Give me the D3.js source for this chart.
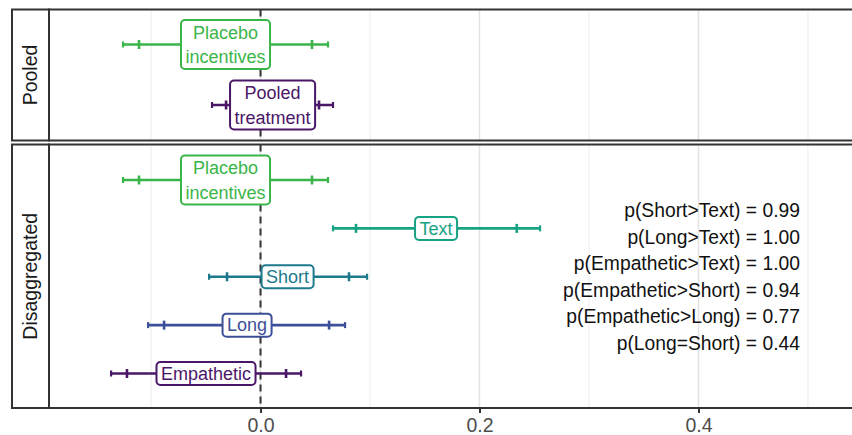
<!DOCTYPE html>
<html lang="en">
<head>
    <meta charset="UTF-8">
    <title>Treatment effects</title>
    <script src="https://cdnjs.cloudflare.com/ajax/libs/d3/7.8.5/d3.min.js"></script>
    <style>
        body { margin: 0; background: #fff; font-family: "Liberation Sans", Arial, sans-serif; }
        .grid-major { stroke: #e3e3e3; stroke-width: 1.5; }
        .grid-minor { stroke: #ececec; stroke-width: 1; }
        .frame { fill: none; stroke: #333; stroke-width: 2; }
        .strip-text { font-size: 19.5px; fill: #1a1a1a; text-anchor: middle; }
        .tick-label { font-size: 19.5px; fill: #4d4d4d; text-anchor: middle; }
        .note { font-size: 19.3px; fill: #111; text-anchor: end; }
        .lbl { font-size: 18px; text-anchor: middle; }
    </style>
</head>
<body>
<div id="chart"></div>
<script>
    // Rows per facet
    const pooledRows = ["Placebo incentives", "Pooled treatment"];
    const disaggRows = ["Placebo incentives", "Text", "Short", "Long", "Empathetic"];

    // Estimates and intervals (outer = wide, inner = narrow)
    const pooledEst   = [-0.032, 0.011];
    const pooledLoOut = [-0.1256, -0.0443];
    const pooledLoIn  = [-0.111, -0.0315];
    const pooledHiIn  = [0.047, 0.0534];
    const pooledHiOut = [0.0616, 0.0662];

    const disaggEst   = [-0.032, 0.1603, 0.0247, -0.0123, -0.0498];
    const disaggLoOut = [-0.1256, 0.0662, -0.047, -0.1027, -0.1365];
    const disaggLoIn  = [-0.111, 0.0872, -0.0306, -0.0881, -0.122];
    const disaggHiIn  = [0.047, 0.234, 0.0808, 0.0626, 0.0233];
    const disaggHiOut = [0.0616, 0.2553, 0.0973, 0.0772, 0.037];

    const rowColors = {
        "Placebo incentives": "#3ab54a",
        "Pooled treatment": "#4a1768",
        "Text": "#17a382",
        "Short": "#1d7a8c",
        "Long": "#3d4f99",
        "Empathetic": "#4a1768"
    };
    const rowLabels = {
        "Placebo incentives": ["Placebo", "incentives"],
        "Pooled treatment": ["Pooled", "treatment"],
        "Text": ["Text"], "Short": ["Short"], "Long": ["Long"], "Empathetic": ["Empathetic"]
    };

    const xTicks = [0, 0.2, 0.4];
    const xMinor = [-0.1, 0.1, 0.3, 0.5];

    const notes = [
        "p(Short>Text) = 0.99",
        "p(Long>Text) = 1.00",
        "p(Empathetic>Text) = 1.00",
        "p(Empathetic>Short) = 0.94",
        "p(Empathetic>Long) = 0.77",
        "p(Long=Short) = 0.44"
    ];
    const noteX = 0.4927;

    const W = 852, H = 435;
    const stripL = 12, panelL = 49;

    const svg = d3.select("#chart").append("svg")
        .attr("width", W).attr("height", H);

    const x = d3.scaleLinear().domain([-0.1932, 0.5402]).range([panelL, W]);

    const panels = [
        { name: "Pooled", top: 9.5, bottom: 140.5, rows: pooledRows, yr: [44.5, 105],
          est: pooledEst, lo: pooledLoOut, loIn: pooledLoIn, hiIn: pooledHiIn, hi: pooledHiOut },
        { name: "Disaggregated", top: 144.5, bottom: 408, rows: disaggRows, yr: [180, 373.5],
          est: disaggEst, lo: disaggLoOut, loIn: disaggLoIn, hiIn: disaggHiIn, hi: disaggHiOut }
    ];

    panels.forEach(p => {
        const g = svg.append("g");
        const y = d3.scalePoint().domain(p.rows).range(p.yr);

        // grid
        g.selectAll(".gmin").data(xMinor).enter().append("line")
            .attr("class", "grid-minor")
            .attr("x1", d => x(d)).attr("x2", d => x(d))
            .attr("y1", p.top).attr("y2", p.bottom);
        g.selectAll(".gmaj").data(xTicks).enter().append("line")
            .attr("class", "grid-major")
            .attr("x1", d => x(d)).attr("x2", d => x(d))
            .attr("y1", p.top).attr("y2", p.bottom);

        // zero reference line
        g.append("line")
            .attr("x1", x(0)).attr("x2", x(0))
            .attr("y1", p.top).attr("y2", p.bottom)
            .attr("stroke", "#333").attr("stroke-width", 2)
            .attr("stroke-dasharray", "7,5");

        const rows = p.rows.map((r, i) => ({
            row: r, est: p.est[i], lo: p.lo[i], loIn: p.loIn[i], hiIn: p.hiIn[i], hi: p.hi[i]
        }));

        rows.forEach(d => {
            const c = rowColors[d.row];
            const cy = y(d.row);
            g.append("line")
                .attr("x1", x(d.lo)).attr("x2", x(d.hi))
                .attr("y1", cy).attr("y2", cy)
                .attr("stroke", c).attr("stroke-width", 2.7);
            [d.lo, d.hi].forEach(v => {
                g.append("line")
                    .attr("x1", x(v)).attr("x2", x(v))
                    .attr("y1", cy - 3).attr("y2", cy + 3)
                    .attr("stroke", c).attr("stroke-width", 2.2);
            });
            [d.loIn, d.hiIn].forEach(v => {
                g.append("line")
                    .attr("x1", x(v)).attr("x2", x(v))
                    .attr("y1", cy - 4.5).attr("y2", cy + 4.5)
                    .attr("stroke", c).attr("stroke-width", 2.6);
            });

            // label
            const lines = rowLabels[d.row];
            const lg = g.append("g");
            const rect = lg.append("rect");
            const t = lg.append("text").attr("class", "lbl").attr("fill", c);
            const lh = 24.5;
            lines.forEach((s, k) => {
                t.append("tspan")
                    .attr("x", x(d.est))
                    .attr("y", cy + (k - (lines.length - 1) / 2) * lh)
                    .attr("dy", "0.35em")
                    .text(s);
            });
            const bb = t.node().getBBox();
            const w = bb.width + 9;
            const h = lines.length * lh + (lines.length > 1 ? 0 : -1.5);
            rect.attr("x", x(d.est) - w / 2).attr("y", cy - h / 2)
                .attr("width", w).attr("height", h)
                .attr("rx", 4).attr("ry", 4)
                .attr("fill", "#fff").attr("stroke", c).attr("stroke-width", 2);
        });

        // frames
        svg.append("rect").attr("class", "frame")
            .attr("x", panelL).attr("y", p.top)
            .attr("width", W + 20 - panelL).attr("height", p.bottom - p.top);
        svg.append("rect").attr("class", "frame")
            .attr("x", stripL).attr("y", p.top)
            .attr("width", panelL - stripL).attr("height", p.bottom - p.top);
        svg.append("text").attr("class", "strip-text")
            .attr("transform", `translate(${(stripL + panelL) / 2},${(p.top + p.bottom) / 2}) rotate(-90)`)
            .attr("dy", "0.35em")
            .text(p.name);

        if (p.name === "Disaggregated") {
            svg.selectAll(".note").data(notes).enter().append("text")
                .attr("class", "note")
                .attr("x", x(noteX))
                .attr("y", (d, i) => 210.7 + i * 26.5)
                .attr("dy", "0.35em")
                .text(d => d);
        }
    });

    // x axis
    const axis = svg.append("g").attr("transform", "translate(0,408)")
        .call(d3.axisBottom(x).tickValues(xTicks).tickSize(5).tickPadding(5)
            .tickFormat(d3.format(".1f")));
    axis.select(".domain").remove();
    axis.selectAll(".tick line").attr("stroke", "#333").attr("stroke-width", 2);
    axis.selectAll(".tick text").attr("class", "tick-label")
        .attr("font-family", null).attr("font-size", null).attr("fill", null);
    axis.attr("font-family", null).attr("font-size", null);
</script>
</body>
</html>
